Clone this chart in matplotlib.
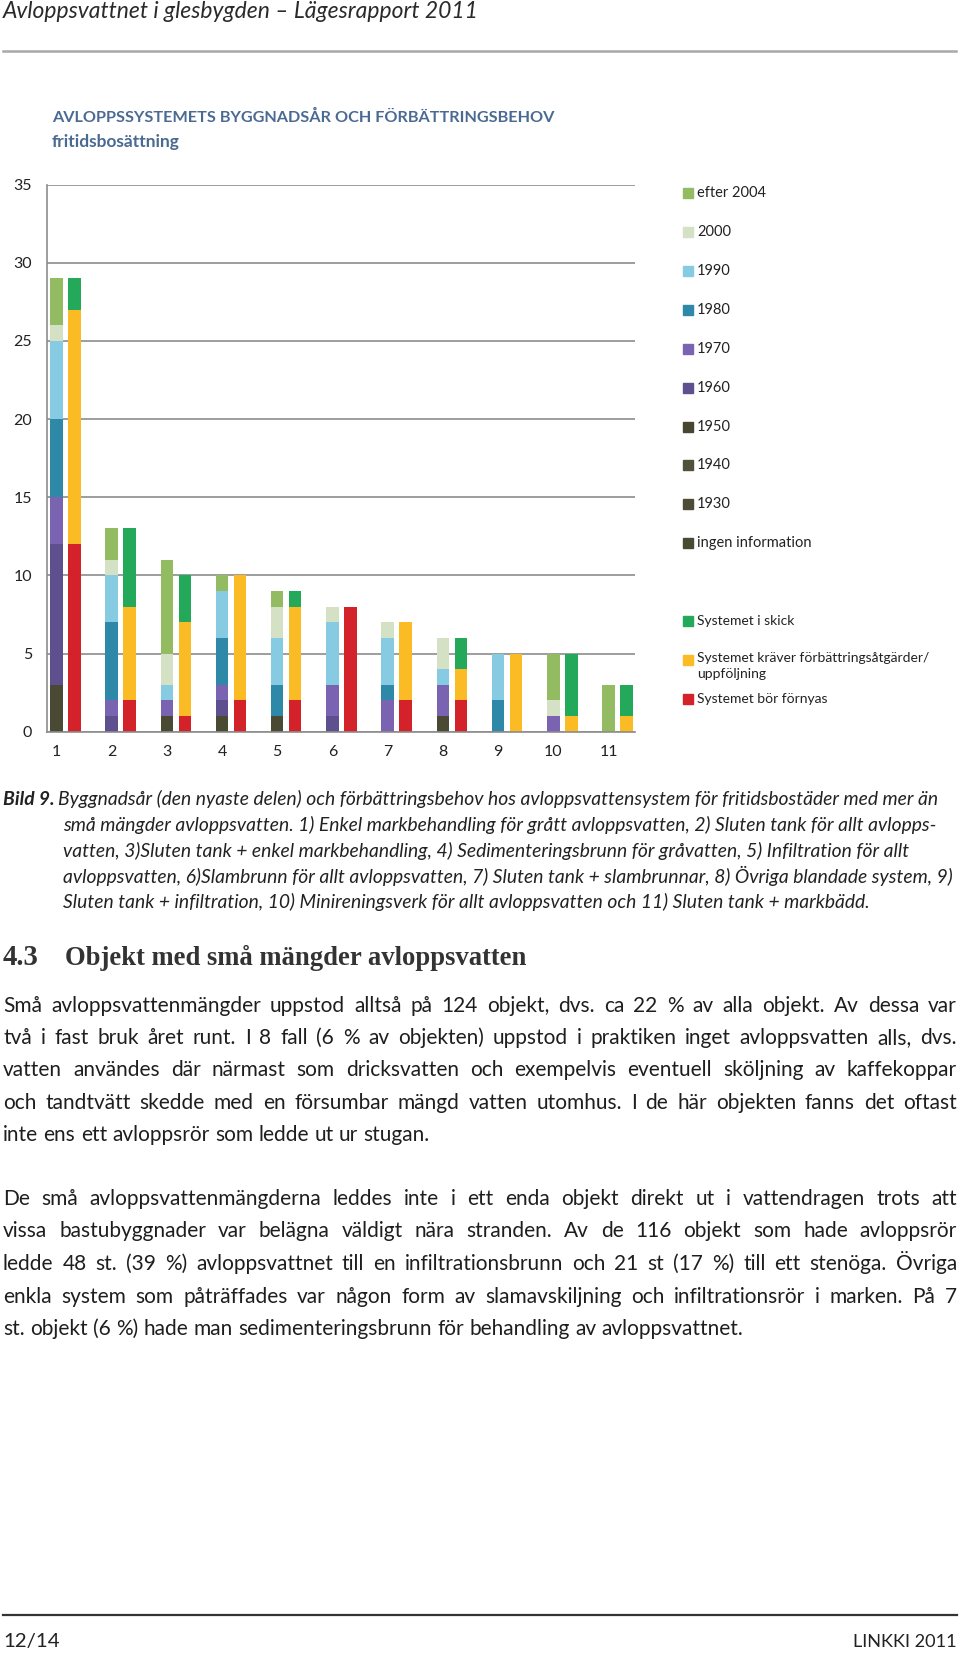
import matplotlib
matplotlib.use('Agg')
import matplotlib.pyplot as plt
from matplotlib.patches import Rectangle
from matplotlib.lines import Line2D
import numpy as np

plt.rcParams['font.family'] = ['Lato', 'DejaVu Sans']

W, H = 960, 1653

# --- chart data ---
groups = ['1', '2', '3', '4', '5', '6', '7', '8', '9', '10', '11']

# building year of the system (stacked, bottom -> top)
ingen_information = [3, 0, 1, 1, 1, 0, 0, 1, 0, 0, 0]
y1930 = [0, 0, 0, 0, 0, 0, 0, 0, 0, 0, 0]
y1940 = [0, 0, 0, 0, 0, 0, 0, 0, 0, 0, 0]
y1950 = [0, 0, 0, 0, 0, 0, 0, 0, 0, 0, 0]
y1960 = [9, 1, 0, 1, 0, 1, 0, 0, 0, 0, 0]
y1970 = [3, 1, 1, 1, 0, 2, 2, 2, 0, 1, 0]
y1980 = [5, 5, 0, 3, 2, 0, 1, 0, 2, 0, 0]
y1990 = [5, 3, 1, 3, 3, 4, 3, 1, 3, 0, 0]
y2000 = [1, 1, 2, 0, 2, 1, 1, 2, 0, 1, 0]
efter_2004 = [3, 2, 6, 1, 1, 0, 0, 0, 0, 3, 3]

age_names = ['ingen information', '1930', '1940', '1950', '1960', '1970',
             '1980', '1990', '2000', 'efter 2004']
age_series = [ingen_information, y1930, y1940, y1950, y1960, y1970,
              y1980, y1990, y2000, efter_2004]
age_colors = ['#4a4a34', '#4d4d37', '#51513b', '#474731', '#5e4f8e', '#7a63b1',
              '#2e88a7', '#86cbe2', '#d4e1c5', '#93bc62']

# need for improvement (stacked, bottom -> top)
bor_fornyas = [12, 2, 1, 2, 2, 8, 2, 2, 0, 0, 0]
kraver_atgarder = [15, 6, 6, 8, 6, 0, 5, 2, 5, 1, 1]
i_skick = [2, 5, 3, 0, 1, 0, 0, 2, 0, 4, 2]

cond_names = ['Systemet bör förnyas', 'Systemet kräver förbättringsåtgärder/\nuppföljning',
              'Systemet i skick']
cond_series = [bor_fornyas, kraver_atgarder, i_skick]
cond_colors = ['#d3222a', '#fbbb24', '#24a95b']


def px(x):
    return x / W


def py(y):
    return 1 - y / H


fig = plt.figure(figsize=(9.6, 16.53), dpi=100)
renderer = fig.canvas.get_renderer()

# --- chart ---
ax = fig.add_axes([px(47), py(731.7), px(635) - px(47), py(184.5) - py(731.7)])
x = np.arange(1, len(groups) + 1)
bw = 0.226

bottom = np.zeros(len(groups))
for vals, c in zip(age_series, age_colors):
    ax.bar(x, vals, bw, bottom=bottom, color=c, edgecolor='none')
    bottom += np.array(vals)

bottom = np.zeros(len(groups))
for vals, c in zip(cond_series, cond_colors):
    ax.bar(x + 0.326, vals, bw, bottom=bottom, color=c, edgecolor='none')
    bottom += np.array(vals)

ax.set_xlim(0.83, 11.48)
ax.set_ylim(0, 35)
ax.set_yticks(range(0, 36, 5))
ax.set_xticks(x)
ax.set_xticklabels(groups)
ax.yaxis.grid(True, color='#8c8c8c', lw=1.2)
ax.set_axisbelow(True)
for s in ['top', 'right']:
    ax.spines[s].set_visible(False)
for s in ['left', 'bottom']:
    ax.spines[s].set_color('#8c8c8c')
    ax.spines[s].set_linewidth(1.2)
ax.tick_params(axis='y', length=0, pad=10.8, labelsize=11.5, colors='#222222')
ax.tick_params(axis='x', length=0, pad=9.5, labelsize=11.5, colors='#222222')

# --- legend, drawn by hand to keep the wide row spacing ---
legend_y = [543, 504, 465, 427, 388, 349, 310, 271, 232, 193]
for name, c, yy in zip(age_names, age_colors, legend_y):
    fig.patches.append(Rectangle((px(683), py(yy + 5)), px(10), 10 / H, color=c,
                                 transform=fig.transFigure))
    fig.text(px(697), py(yy), name, fontsize=10.5, va='center', color='#222222')

cond_y = [699, 660, 621]
for name, c, yy in zip(cond_names, cond_colors, cond_y):
    fig.patches.append(Rectangle((px(683), py(yy + 5)), px(10), 10 / H, color=c,
                                 transform=fig.transFigure))
    if '\n' in name:
        fig.text(px(697), py(yy - 8), name, fontsize=10, va='top',
                 color='#222222', linespacing=1.45)
    else:
        fig.text(px(697), py(yy), name, fontsize=10, va='center', color='#222222')


# --- page text ---
def fit(x, y, s, width, ha='left', **kw):
    t = fig.text(px(x), py(y), s, ha=ha, va='baseline', fontsize=10, **kw)
    w = t.get_window_extent(renderer).width
    t.set_fontsize(10 * width / w)
    return t


def natural(s, size, **kw):
    t = fig.text(0, 0, s, fontsize=size, **kw)
    w = t.get_window_extent(renderer).width
    t.remove()
    return w


def word_widths(line, size, **kw):
    return [natural(w, size, **kw) for w in line.split(' ')]


def justify(line, y, size, x0=3, x1=957, last=False, **kw):
    words = line.split(' ')
    ws = word_widths(line, size, **kw)
    if last or len(words) < 2:
        gap = natural('a b', size, **kw) - natural('ab', size, **kw)
    else:
        gap = (x1 - x0 - sum(ws)) / (len(words) - 1)
    pos = x0
    for w, ww in zip(words, ws):
        fig.text(px(pos), py(y), w, fontsize=size, va='baseline', **kw)
        pos += ww + gap


fit(3, 18, 'Avloppsvattnet i glesbygden – Lägesrapport 2011', 474,
    style='italic', color='#2a2a2a')
fig.add_artist(Line2D([px(3), px(956)], [py(51), py(51)], color='#a8a8a8', lw=1.8))

fit(52, 122, 'AVLOPPSSYSTEMETS BYGGNADSÅR OCH FÖRBÄTTRINGSBEHOV', 504,
    fontweight='bold', color='#4b6a92')
fig.text(px(52), py(147), 'fritidsbosättning', fontsize=12.5, fontweight='bold',
         va='baseline', color='#4b6a92')

caption = ['Byggnadsår (den nyaste delen) och förbättringsbehov hos avloppsvattensystem för fritidsbostäder med mer än',
           'små mängder avloppsvatten. 1) Enkel markbehandling för grått avloppsvatten, 2) Sluten tank för allt avlopps-',
           'vatten, 3)Sluten tank + enkel markbehandling, 4) Sedimenteringsbrunn för gråvatten, 5) Infiltration för allt',
           'avloppsvatten, 6)Slambrunn för allt avloppsvatten, 7) Sluten tank + slambrunnar, 8) Övriga blandade system, 9)',
           'Sluten tank + infiltration, 10) Minireningsverk för allt avloppsvatten och 11) Sluten tank + markbädd.']
cap_y = [805, 831, 857, 883, 908]
t0 = fit(58, cap_y[0], caption[0], 880, style='italic', color='#222222')
cap_size = t0.get_fontsize()
fig.text(px(3), py(cap_y[0]), 'Bild 9.', fontsize=cap_size, style='italic',
         fontweight='bold', va='baseline', color='#222222')
for line, yy in zip(caption[1:], cap_y[1:]):
    fig.text(px(63), py(yy), line, fontsize=cap_size, style='italic',
             va='baseline', color='#222222')

heading_font = ['Liberation Serif', 'DejaVu Serif']
fit(3, 965, '4.3', 36, fontweight='bold', family=heading_font, color='#333333')
fit(65, 965, 'Objekt med små mängder avloppsvatten', 463, fontweight='bold',
    family=heading_font, color='#333333')

para1 = ['Små avloppsvattenmängder uppstod alltså på 124 objekt, dvs. ca 22 % av alla objekt. Av dessa var',
         'två i fast bruk året runt. I 8 fall (6 % av objekten) uppstod i praktiken inget avloppsvatten alls, dvs.',
         'vatten användes där närmast som dricksvatten och exempelvis eventuell sköljning av kaffekoppar',
         'och tandtvätt skedde med en försumbar mängd vatten utomhus. I de här objekten fanns det oftast',
         'inte ens ett avloppsrör som ledde ut ur stugan.']
para2 = ['De små avloppsvattenmängderna leddes inte i ett enda objekt direkt ut i vattendragen trots att',
         'vissa bastubyggnader var belägna väldigt nära stranden. Av de 116 objekt som hade avloppsrör',
         'ledde 48 st. (39 %) avloppsvattnet till en infiltrationsbrunn och 21 st (17 %) till ett stenöga. Övriga',
         'enkla system som påträffades var någon form av slamavskiljning och infiltrationsrör i marken. På 7',
         'st. objekt (6 %) hade man sedimenteringsbrunn för behandling av avloppsvattnet.']
p1_y = [1012, 1044, 1076, 1109, 1141]
p2_y = [1205, 1237, 1270, 1303, 1335]

# largest size where every full line still fits with tight (3 px) word gaps
body_size = 15
tight = max(sum(word_widths(s, body_size)) + 3 * (len(s.split(' ')) - 1)
            for s in para1[:-1] + para2[:-1])
body_size = body_size * min(1.0, 954 / tight)
for para, ys in [(para1, p1_y), (para2, p2_y)]:
    for i, (line, yy) in enumerate(zip(para, ys)):
        justify(line, yy, body_size, last=(i == len(para) - 1), color='#1e1e1e')

fig.add_artist(Line2D([px(3), px(957)], [py(1615), py(1615)], color='#333333', lw=1.6))
fit(3, 1647, '12/14', 57, color='#222222')
fit(957, 1647, 'LINKKI 2011', 103, ha='right', color='#222222')

fig.savefig('out.png', dpi=100)
